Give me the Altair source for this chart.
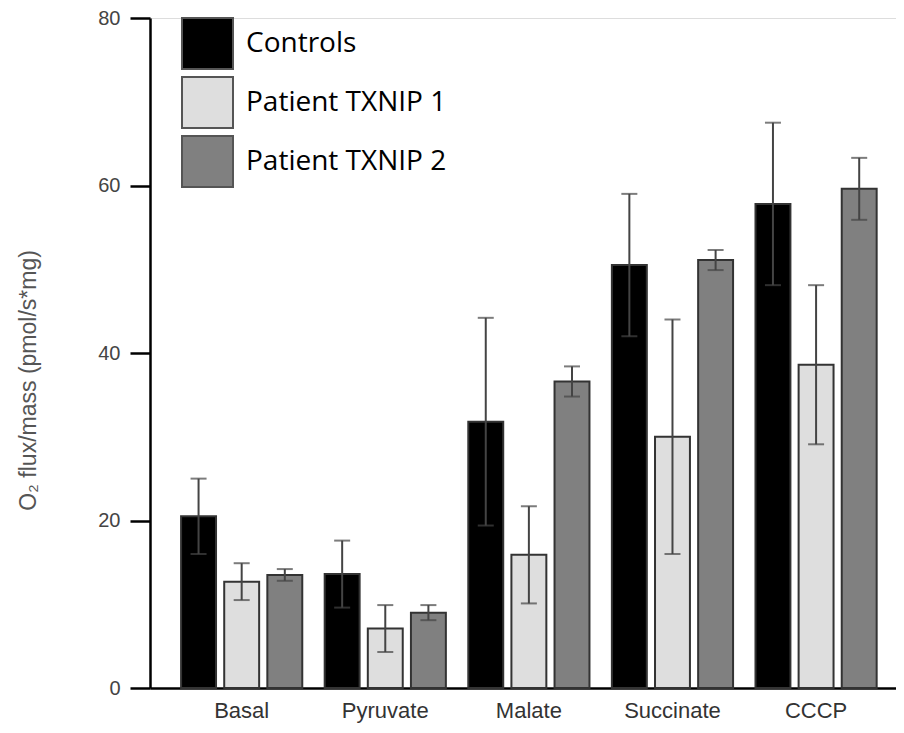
import altair as alt
import pandas as pd

categories = ["Basal", "Pyruvate", "Malate", "Succinate", "CCCP"]
groups = ["Controls", "Patient TXNIP 1", "Patient TXNIP 2"]
colors = ["#000000", "#dedede", "#808080"]

controls_mean = [20.5, 13.6, 31.8, 50.5, 57.8]
controls_err = [4.5, 4.0, 12.4, 8.5, 9.7]
txnip1_mean = [12.7, 7.1, 15.9, 30.0, 38.6]
txnip1_err = [2.2, 2.8, 5.8, 14.0, 9.5]
txnip2_mean = [13.5, 9.0, 36.6, 51.1, 59.6]
txnip2_err = [0.7, 0.9, 1.8, 1.2, 3.7]

rows = []
for g, means, errs in zip(groups, [controls_mean, txnip1_mean, txnip2_mean],
                          [controls_err, txnip1_err, txnip2_err]):
    for c, m, e in zip(categories, means, errs):
        rows.append({"category": c, "group": g, "mean": m, "lo": m - e, "hi": m + e})
df = pd.DataFrame(rows)

x = alt.X("category:N", sort=categories,
          scale=alt.Scale(paddingInner=0, paddingOuter=0.0975, align=0.71),
          axis=alt.Axis(title=None, ticks=False, labelFontSize=22, labelColor="#333333",
                        labelPadding=12, domainColor="#000000", domainWidth=2.5, labelAngle=0))
xo = alt.XOffset("group:N", sort=groups,
                 scale=alt.Scale(paddingInner=0.19, paddingOuter=0.26))
yscale = alt.Scale(domain=[0, 80])

color = alt.Color("group:N", sort=groups,
                  scale=alt.Scale(domain=groups, range=colors),
                  legend=alt.Legend(orient="none", legendX=31, legendY=-1, title=None,
                                    symbolType="square", symbolSize=2601,
                                    symbolStrokeColor="#555555", symbolStrokeWidth=2,
                                    symbolOpacity=1, labelLimit=500,
                                    labelFontSize=28, labelColor="#000000", labelOffset=12,
                                    rowPadding=0, padding=0, labelFont="Open Sans"))

bars = alt.Chart(df).mark_bar(stroke="#333333", strokeWidth=2, opacity=1).encode(
    x=x, xOffset=xo,
    y=alt.Y("mean:Q", scale=yscale,
            axis=alt.Axis(values=[0, 20, 40, 60, 80], tickSize=20, tickWidth=2.5,
                          tickColor="#000000", domainWidth=2.5, domainColor="#000000",
                          grid=False, labelFontSize=20, labelColor="#444444", labelPadding=10,
                          title="O₂ flux/mass (pmol/s*mg)", titleFontSize=23,
                          titleColor="#555555", titleFontWeight="normal",
                          titleAngle=270, titleX=-122, titleY=362,
                          titleAlign="center", titleBaseline="middle")),
    color=color,
)

rules = alt.Chart(df).mark_rule(color="#444444", strokeWidth=2).encode(
    x=x, xOffset=xo, y=alt.Y("lo:Q", scale=yscale), y2="hi:Q")

caps_hi = alt.Chart(df).mark_tick(color="#444444", thickness=2, size=16, orient="horizontal").encode(
    x=x, xOffset=xo, y=alt.Y("hi:Q", scale=yscale))
caps_lo = alt.Chart(df).mark_tick(color="#444444", thickness=2, size=16, orient="horizontal").encode(
    x=x, xOffset=xo, y=alt.Y("lo:Q", scale=yscale))

chart = alt.layer(bars, rules, caps_hi, caps_lo).properties(
    width=746, height=670,
    padding={"left": 142, "top": 10, "right": 0, "bottom": 37},
    autosize="none",
).configure_view(stroke=None).configure(font="Liberation Sans")

chart.save("out.html", embed_options={"renderer": "svg", "actions": False})
